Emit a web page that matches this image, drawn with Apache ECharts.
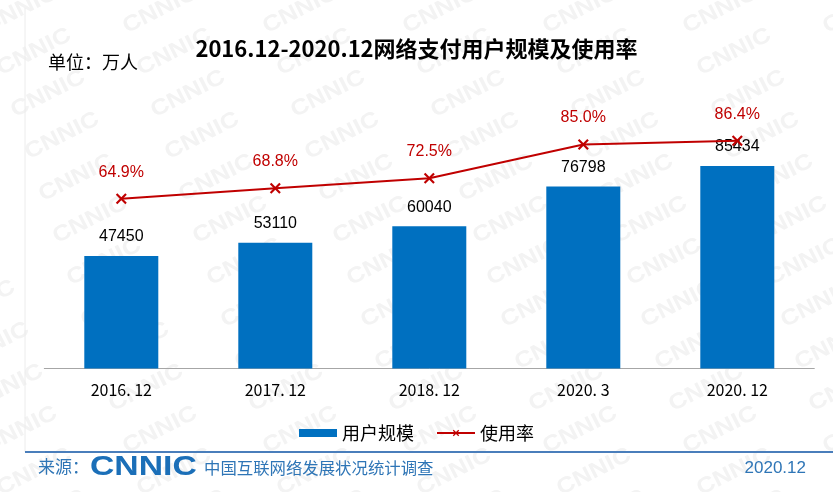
<!DOCTYPE html>
<html>
<head>
<meta charset="utf-8">
<script src="https://cdn.jsdelivr.net/npm/echarts@6/dist/echarts.min.js"></script>
<style>
  html, body { margin: 0; padding: 0; background: #fff; }
  #main { width: 833px; height: 492px; }
</style>
</head>
<body>
<div id="main"></div>
<script>
// 数据
var categories = ['2016. 12', '2017. 12', '2018. 12', '2020. 3', '2020. 12'];
var userScale = [47450, 53110, 60040, 76798, 85434];
var usageRate = [64.9, 68.8, 72.5, 85.0, 86.4];

var chartDom = document.getElementById('main');
var myChart = echarts.init(chartDom);
var option;

// 背景水印 CNNIC
var marks = [];
for (var r = -2; r < 14; r++) {
  for (var c = -1; c < 8; c++) {
    marks.push({
      type: 'text',
      x: c * 140 + r * 14 + 20,
      y: r * 42 + 10,
      rotation: Math.PI * 27 / 180,
      scaleX: 1.15,
      silent: true,
      z: 0,
      style: {
        text: 'CNNIC',
        fill: '#f3f3f3',
        font: 'bold 22px "Liberation Sans", Arial, sans-serif',
        align: 'center',
        verticalAlign: 'middle'
      }
    });
  }
}

var blue = '#2e75b6';

option = {
  backgroundColor: '#fff',
  title: {
    text: '2016.12-2020.12网络支付用户规模及使用率',
    left: 'center',
    top: 33,
    textStyle: {
      fontSize: 22,
      fontWeight: 'bold',
      color: '#000',
      fontFamily: '"Noto Sans CJK SC", sans-serif'
    }
  },
  legend: {
    bottom: 45,
    left: 'center',
    itemGap: 22,
    itemWidth: 38,
    itemHeight: 8,
    textStyle: {
      fontSize: 18,
      color: '#000',
      fontFamily: '"Noto Sans CJK SC", sans-serif'
    },
    data: [
      { name: '用户规模', icon: 'rect' },
      { name: '使用率' }
    ]
  },
  grid: {
    left: 44.3,
    right: 18.7,
    top: 131.5,
    bottom: 123.5
  },
  xAxis: {
    type: 'category',
    data: categories,
    axisLine: { lineStyle: { color: '#a6a6a6', width: 1 } },
    axisTick: { inside: true, length: 5, lineStyle: { color: '#a6a6a6' } },
    axisLabel: {
      margin: 13,
      fontSize: 16,
      color: '#000',
      fontFamily: '"Noto Sans CJK SC", sans-serif'
    }
  },
  yAxis: [
    { type: 'value', min: 0, max: 100000, show: false, splitLine: { show: false } },
    { type: 'value', min: 2, max: 89.8, show: false, splitLine: { show: false } }
  ],
  series: [
    {
      name: '用户规模',
      type: 'bar',
      data: userScale,
      barWidth: 74,
      itemStyle: { color: '#0070c0' },
      label: {
        show: true,
        position: 'top',
        distance: 11,
        fontSize: 16,
        color: '#000',
        fontFamily: '"Liberation Sans", Arial, sans-serif'
      }
    },
    {
      name: '使用率',
      type: 'line',
      yAxisIndex: 1,
      data: usageRate,
      symbol: 'path://M0,1.4L1.4,0L5,3.6L8.6,0L10,1.4L6.4,5L10,8.6L8.6,10L5,6.4L1.4,10L0,8.6L3.6,5Z',
      symbolSize: 11,
      lineStyle: { color: '#c00000', width: 2 },
      itemStyle: { color: '#c00000' },
      label: {
        show: true,
        position: 'top',
        distance: 13,
        fontSize: 16,
        color: '#c00000',
        fontFamily: '"Liberation Sans", Arial, sans-serif',
        formatter: function (p) { return p.value.toFixed(1) + '%'; }
      }
    }
  ],
  graphic: marks.concat([
    {
      type: 'line', silent: true, z: 1,
      shape: { x1: 25, y1: 8, x2: 25, y2: 452 },
      style: { stroke: '#ececec', lineWidth: 1 }
    },
    {
      type: 'text', left: 48, top: 53, z: 5,
      style: { text: '单位：万人', fill: '#000', font: '18px "Noto Sans CJK SC", sans-serif' }
    },
    {
      type: 'line', silent: true, z: 5,
      shape: { x1: 25, y1: 452, x2: 833, y2: 452 },
      style: { stroke: '#4a7ebb', lineWidth: 2 }
    },
    {
      type: 'text', x: 38, y: 467, z: 5,
      style: { text: '来源：', fill: blue, font: '17px "Noto Sans CJK SC", sans-serif', verticalAlign: 'middle' }
    },
    {
      type: 'text', x: 90, y: 468, scaleX: 1.25, z: 5,
      style: { text: 'CNNIC', fill: '#1b6fb8', font: '900 27px "Liberation Sans", Arial, sans-serif', verticalAlign: 'middle' }
    },
    {
      type: 'text', x: 204, y: 468, z: 5,
      style: { text: '中国互联网络发展状况统计调查', fill: blue, font: '16.4px "Noto Sans CJK SC", sans-serif', verticalAlign: 'middle' }
    },
    {
      type: 'text', x: 806, y: 468, z: 5,
      style: { text: '2020.12', fill: blue, font: '17px "Liberation Sans", Arial, sans-serif', align: 'right', verticalAlign: 'middle' }
    }
  ])
};

option && myChart.setOption(option);
</script>
</body>
</html>
